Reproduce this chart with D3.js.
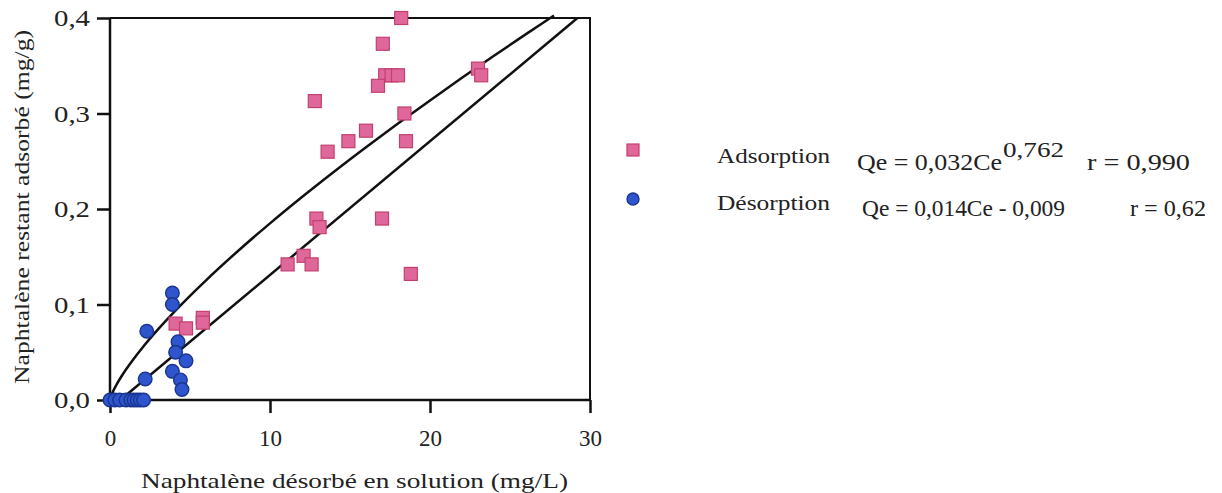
<!DOCTYPE html>
<html><head><meta charset="utf-8">
<script src="https://cdn.jsdelivr.net/npm/d3@7"></script>
<style>
body{margin:0;background:#fff;}
text{font-family:"Liberation Serif","Times New Roman",Times,serif;fill:#222;}
</style></head>
<body><svg id="c" width="1222" height="493"></svg>
<script>
// ---- data ----
const xTicks = [0, 10, 20, 30];
const yTicks = [0, 0.1, 0.2, 0.3, 0.4];
const yTickLabels = ["0,0", "0,1", "0,2", "0,3", "0,4"];
const adsX = [18.2, 17.05, 17.2, 17.6, 18.0, 16.75, 12.8, 23.0, 23.2, 18.4, 16.0, 14.9, 13.6, 18.5, 12.9, 13.1, 17.0, 11.1, 12.1, 12.6, 18.8, 4.1, 4.75, 5.8, 5.8];
const adsY = [0.400, 0.373, 0.340, 0.340, 0.340, 0.329, 0.313, 0.347, 0.340, 0.300, 0.282, 0.271, 0.260, 0.271, 0.190, 0.181, 0.190, 0.142, 0.151, 0.142, 0.132, 0.080, 0.075, 0.086, 0.081];
const desX = [3.9, 3.9, 2.3, 4.25, 4.1, 4.75, 3.9, 4.4, 4.5, 2.2, 0.0, 0.3, 0.6, 1.0, 1.3, 1.5, 1.7, 1.9, 2.1];
const desY = [0.112, 0.100, 0.072, 0.061, 0.050, 0.041, 0.030, 0.021, 0.011, 0.022, 0.0, 0.0, 0.0, 0.0, 0.0, 0.0, 0.0, 0.0, 0.0];
// fitted models shown in the legend
const adsFit = {a: 0.032, b: 0.762};   // Qe = a*Ce^b
const desFit = {m: 0.014, c: -0.009};  // Qe = m*Ce + c
const fitSteps = [0, 0.05, 0.1, 0.2, 0.4, 0.7, 1, 1.5, 2, 3, 4, 5, 6, 8, 10, 12, 14, 16, 18, 20, 22, 24, 26, 27, 27.75];

const svg = d3.select("#c");
const X0 = 110, X1 = 590, Y0 = 400, Y1 = 18;
const x = d3.scaleLinear().domain([0, 30]).range([X0, X1]);
const y = d3.scaleLinear().domain([0, 0.4]).range([Y0, Y1]);

// frame (top & right)
svg.append("path").attr("d", `M${X0},${Y1}H${X1}V${Y0}`).attr("fill","none").attr("stroke","#111").attr("stroke-width",2);

// axes
const xa = svg.append("g").attr("transform",`translate(0,${Y0})`)
  .call(d3.axisBottom(x).tickValues(xTicks).tickSize(13).tickFormat(d3.format("d")));
xa.select(".domain").attr("d",`M${X0},0H${X1}`).attr("stroke","#111").attr("stroke-width",2.5);
xa.selectAll(".tick line").attr("stroke","#111").attr("stroke-width",2.5);
xa.selectAll(".tick text").attr("font-size",23).attr("y",30).attr("dy","0.71em").attr("fill","#222")
  .style("font-family",'"Liberation Serif","Times New Roman",serif');

const ya = svg.append("g").attr("transform",`translate(${X0},0)`)
  .call(d3.axisLeft(y).tickValues(yTicks).tickSize(13).tickFormat((d,i)=>yTickLabels[i]));
ya.select(".domain").attr("d",`M0,${Y0}V${Y1}`).attr("stroke","#111").attr("stroke-width",2.5);
ya.selectAll(".tick line").attr("stroke","#111").attr("stroke-width",2.5);
ya.selectAll(".tick text").attr("font-size",23).attr("x",-20).attr("dy","0.33em")
  .attr("textLength",36).attr("lengthAdjust","spacingAndGlyphs").attr("fill","#222")
  .style("font-family",'"Liberation Serif","Times New Roman",serif');

// titles
svg.append("text").attr("transform","translate(29,384) rotate(-90)")
  .attr("font-size",22).attr("textLength",354).attr("lengthAdjust","spacingAndGlyphs")
  .text("Naphtalène restant adsorbé (mg/g)");
svg.append("text").attr("x",141).attr("y",488).attr("font-size",22)
  .attr("textLength",427).attr("lengthAdjust","spacingAndGlyphs")
  .text("Naphtalène désorbé en solution (mg/L)");

// fit curves
const line = d3.line().x(d=>x(d[0])).y(d=>y(d[1])).curve(d3.curveMonotoneX);
const adsCurve = fitSteps.map(c=>[c, adsFit.a*Math.pow(c, adsFit.b)]);
const x0lin = -desFit.c/desFit.m, x1lin = (0.4-desFit.c)/desFit.m;
const desCurve = [[x0lin, 0],[x1lin, 0.4]];
svg.append("path").attr("d", line(adsCurve)).attr("fill","none").attr("stroke","#111").attr("stroke-width",2.5);
svg.append("path").attr("d", line(desCurve)).attr("fill","none").attr("stroke","#111").attr("stroke-width",2.5);

// markers
const pink = "#e0679a", pinkEdge = "#c2406f";
const blue = "#2f55cc", blueEdge = "#1a3590";
const S = 13;
svg.append("g").selectAll("rect").data(d3.range(adsX.length)).join("rect")
  .attr("x", i=>x(adsX[i])-S/2).attr("y", i=>y(adsY[i])-S/2)
  .attr("width",S).attr("height",S).attr("fill",pink).attr("stroke",pinkEdge).attr("stroke-width",1.2);
svg.append("g").selectAll("circle").data(d3.range(desX.length)).join("circle")
  .attr("cx", i=>x(desX[i])).attr("cy", i=>y(desY[i])).attr("r",6.8)
  .attr("fill",blue).attr("stroke",blueEdge).attr("stroke-width",1.4);

// legend
svg.append("rect").attr("x",627).attr("y",144).attr("width",12).attr("height",12).attr("fill",pink).attr("stroke",pinkEdge).attr("stroke-width",1.2);
svg.append("circle").attr("cx",633).attr("cy",199).attr("r",6).attr("fill",blue).attr("stroke",blueEdge).attr("stroke-width",1.4);
const L = svg.append("g").attr("font-size",24);
function t(xp, yp, s, len, fs){ const e = L.append("text").attr("x",xp).attr("y",yp).text(s);
  if(len) e.attr("textLength",len).attr("lengthAdjust","spacingAndGlyphs"); if(fs) e.attr("font-size",fs); return e; }
t(717,163,"Adsorption",113,22);
t(857,170,"Qe = 0,032Ce",145);
t(1003,157,"0,762",61,21);
t(1087,170,"r = 0,990",103);
t(717,210,"Désorption",113,22);
t(862,216,"Qe = 0,014Ce - 0,009",203);
t(1130,216,"r = 0,62",76);
</script></body></html>
